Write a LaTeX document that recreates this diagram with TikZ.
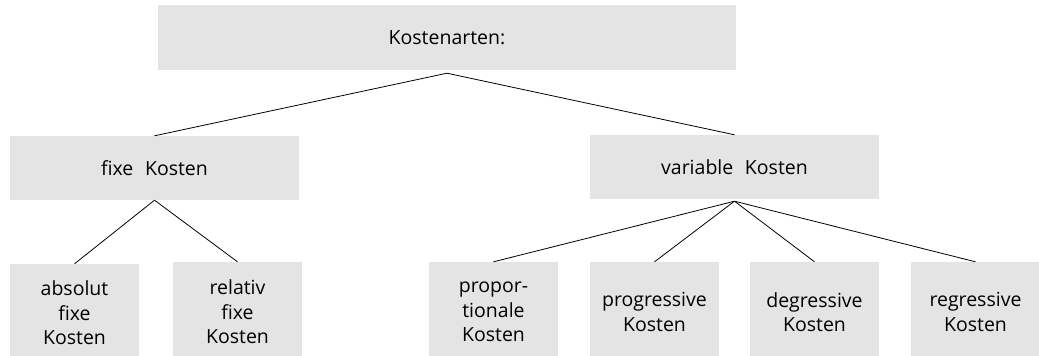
\documentclass[tikz,border=0pt]{standalone}
\usepackage{fontspec}
\setmainfont[WordSpace=2.3]{Open Sans}
\usetikzlibrary{positioning}
\definecolor{boxgray}{RGB}{227,228,227}

\begin{document}
\begin{tikzpicture}[x=1pt, y=-1pt]
                \useasboundingbox (0,0) rectangle (1039,356);
                \begin{scope}[every node/.style = {fill=boxgray, inner sep=0pt, align=center,
                    font=\fontsize{19.5}{24.5}\selectfont}]
                  \node[minimum width=578, minimum height=65] (arten) at (447,37.5) {Kostenarten:};
                  \node[minimum width=289, minimum height=64] (fix) at (154.5,168) {fixe Kosten};
                  \node[minimum width=289, minimum height=64] (var) at (734.5,167) {variable Kosten};
                  \node[minimum width=129, minimum height=98] (absfix) at (74.5,313) {absolut\\fixe\\Kosten};
                  \node[minimum width=129, minimum height=100] (relfix) at (237.5,312) {relativ\\fixe\\Kosten};
                  \node[minimum width=129, minimum height=100] (prop) at (493.5,312) {propor-\\tionale\\Kosten};
                  \node[minimum width=129, minimum height=100] (prog) at (654.5,312) {progressive\\Kosten};
                  \node[minimum width=129, minimum height=100] (degr) at (814.5,312) {degressive\\Kosten};
                  \node[minimum width=129, minimum height=100] (regr) at (975.5,312) {regressive\\Kosten};
                \end{scope}

                \begin{scope}[every edge/.style={draw=black, line width=0.8pt}]
                  \path ([yshift=-3pt]arten.south) edge (fix.north);
                  \path ([yshift=-3pt]arten.south) edge (var.north);
                  \path (fix.south) edge (absfix.north);
                  \path (fix.south) edge (relfix.north);
                  \path ([yshift=-2pt]var.south) edge (prop.north);
                  \path ([yshift=-2pt]var.south) edge (prog.north);
                  \path ([yshift=-2pt]var.south) edge (degr.north);
                  \path ([yshift=-2pt]var.south) edge (regr.north);
                \end{scope}
              \end{tikzpicture}
\end{document}
